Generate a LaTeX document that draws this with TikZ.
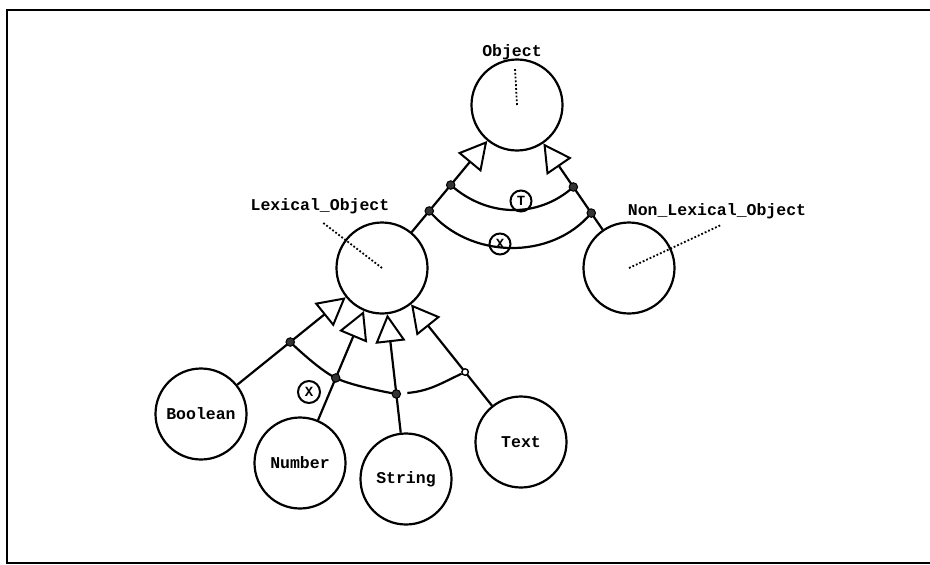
\documentclass[tikz,border=0pt]{standalone}
\usepackage{fontspec}
\newfontfamily\diafont{Liberation Mono}
\usetikzlibrary{arrows.meta,calc}
\begin{document}
\begin{tikzpicture}[x=1pt,y=-1pt,
  entity/.style={draw,circle,line width=2.2pt,minimum size=91pt,inner sep=0pt,
    font=\diafont\bfseries\fontsize{16.5}{18}\selectfont},
  lbl/.style={font=\diafont\bfseries\fontsize{16.5}{18}\selectfont,inner sep=1pt},
  link/.style={line width=2.2pt,-{Triangle[open,length=28pt,width=30pt,line width=2pt]}},
  arcline/.style={line width=2.2pt},
  pointer/.style={line width=1.8pt,dotted},
  joint/.style={circle,draw,fill=black!80,line width=1pt,minimum size=8.5pt,inner sep=0pt},
  constraint/.style={circle,draw,line width=2pt,minimum size=21pt,inner sep=0pt,
    font=\diafont\bfseries\fontsize{14}{15}\selectfont},
  openend/.style={circle,draw,fill=white,line width=1.4pt,minimum size=6.5pt,inner sep=0pt}
]
\useasboundingbox (0,0) rectangle (930,565);

% frame
\draw[line width=2.6pt] (930,10) -- (7,10) -- (7,563) -- (930,563);

% object types
\node[entity] (obj)    at (517,105) {};
\node[entity] (lex)    at (382,268) {};
\node[entity] (nonlex) at (629,268) {};
\node[entity] (bool)   at (201,414) {Boolean};
\node[entity] (num)    at (300,463) {Number};
\node[entity] (str)    at (406,479) {String};
\node[entity] (txt)    at (521,442) {Text};

% names of the unlabelled types
\node[lbl] (objlbl) at (512,52)  {Object};
\node[lbl] (lexlbl) at (320,206) {Lexical\_Object};
\node[lbl] (nllbl)  at (717,211) {Non\_Lexical\_Object};
\coordinate (objtip) at (515,68);
\coordinate (lextip) at (322,222);
\coordinate (nltip)  at (721,225);
\draw[pointer] (obj.center) -- (objtip);
\draw[pointer] (lex.center) -- (lextip);
\draw[pointer] (nonlex.center) -- (nltip);

% subtype links
\draw[link] (lex) -- (obj);
\draw[link] (nonlex) -- (obj);
\draw[link] (bool) -- (lex);
\draw[link] (num) -- (lex);
\draw[link] (str) -- (lex);
\draw[link] (txt) -- (lex);

% junction points on the links
\coordinate (a1) at ($(lex)!0.509!(obj)$);
\coordinate (a2) at ($(lex)!0.35!(obj)$);
\coordinate (b1) at ($(nonlex)!0.497!(obj)$);
\coordinate (b2) at ($(nonlex)!0.337!(obj)$);
\coordinate (bd) at ($(bool)!0.493!(lex)$);
\coordinate (nd) at ($(num)!0.436!(lex)$);
\coordinate (sd) at ($(str)!0.403!(lex)$);
\coordinate (td) at ($(txt)!0.402!(lex)$);

% constraint arcs
\draw[arcline] (a1) .. controls +(36,32) and +(-36,32) .. (b1);
\draw[arcline] (a2) .. controls +(40,48) and +(-40,48) .. (b2);
\draw[arcline] plot[smooth,tension=0.6] coordinates {(bd) (nd) (sd)};
\node[openend] (tde) at (td) {};
\coordinate (gap) at ($(sd)+(11,-1)$);
\draw[arcline] (gap) to[out=5,in=205] (tde);

% junction dots
\node[joint] (a1d) at (a1) {};
\node[joint] (a2d) at (a2) {};
\node[joint] (b1d) at (b1) {};
\node[joint] (b2d) at (b2) {};
\node[joint] (bdd) at (bd) {};
\node[joint] (ndd) at (nd) {};
\node[joint] (sdd) at (sd) {};

% constraint marks
\node[constraint] (tot) at (521,201) {T};
\node[constraint] (exc) at (500,244) {X};
\node[constraint,minimum size=22pt] (exc2) at (309,392) {X};
\end{tikzpicture}
\end{document}
